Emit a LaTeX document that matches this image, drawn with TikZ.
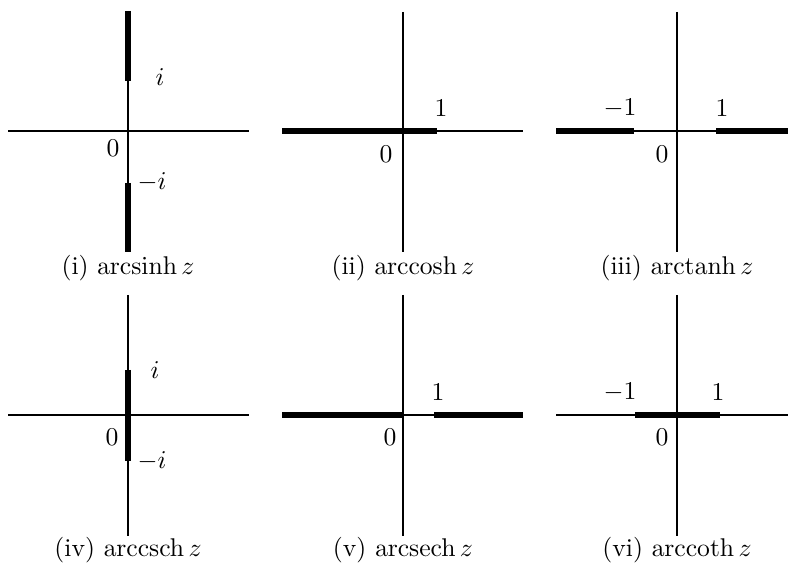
\documentclass[tikz,border=0pt]{standalone}
\begin{document}
\begin{tikzpicture}[x=0.39pt,y=-0.39pt,
  axis/.style={line width=0.6pt},
  cut/.style={line width=2.4pt,line cap=butt},
  lab/.style={inner sep=0pt,font=\fontsize{10}{12}\selectfont},
  captext/.style={inner sep=0pt,font=\fontsize{10}{12}\selectfont}]
\useasboundingbox (0,0) rectangle (788,573);
% (i) arcsinh
\draw[axis] (8,131) -- (249,131);
\draw[axis] (128,11) -- (128,252);
\draw[cut] (128,11) -- (128,81);
\draw[cut] (128,183) -- (128,252);
\node[lab] (i1) at (160,77) {$i$};
\node[lab] (mi1) at (152,182) {$-i$};
\node[lab] (o1) at (113,148) {$0$};
\node[captext] (c1) at (128,268) {(i) $\mathrm{arcsinh}\,z$};
% (ii) arccosh
\draw[axis] (282,131) -- (523,131);
\draw[axis] (403,12) -- (403,252);
\draw[cut] (282,131) -- (437,131);
\node[lab] (one2) at (441,108) {$1$};
\node[lab] (o2) at (386,154) {$0$};
\node[captext] (c2) at (403,268) {(ii) $\mathrm{arccosh}\,z$};
% (iii) arctanh
\draw[axis] (556,131) -- (788,131);
\draw[axis] (677,12) -- (677,252);
\draw[cut] (556,131) -- (634,131);
\draw[cut] (716,131) -- (788,131);
\node[lab] (m3) at (620,108) {$-1$};
\node[lab] (one3) at (722,108) {$1$};
\node[lab] (o3) at (662,154) {$0$};
\node[captext] (c3) at (677,268) {(iii) $\mathrm{arctanh}\,z$};
% (iv) arccsch
\draw[axis] (8,415) -- (249,415);
\draw[axis] (128,295) -- (128,536);
\draw[cut] (128,370) -- (128,461);
\node[lab] (i4) at (155,370) {$i$};
\node[lab] (mi4) at (152,461) {$-i$};
\node[lab] (o4) at (112,437) {$0$};
\node[captext] (c4) at (128,550) {(iv) $\mathrm{arccsch}\,z$};
% (v) arcsech
\draw[axis] (282,415) -- (523,415);
\draw[axis] (403,295) -- (403,536);
\draw[cut] (282,415) -- (403,415);
\draw[cut] (434,415) -- (523,415);
\node[lab] (one5) at (438,392) {$1$};
\node[lab] (o5) at (390,437) {$0$};
\node[captext] (c5) at (403,550) {(v) $\mathrm{arcsech}\,z$};
% (vi) arccoth
\draw[axis] (556,415) -- (788,415);
\draw[axis] (677,295) -- (677,536);
\draw[cut] (635,415) -- (720,415);
\node[lab] (m6) at (620,392) {$-1$};
\node[lab] (one6) at (718,392) {$1$};
\node[lab] (o6) at (662,437) {$0$};
\node[captext] (c6) at (677,550) {(vi) $\mathrm{arccoth}\,z$};
\end{tikzpicture}
\end{document}
